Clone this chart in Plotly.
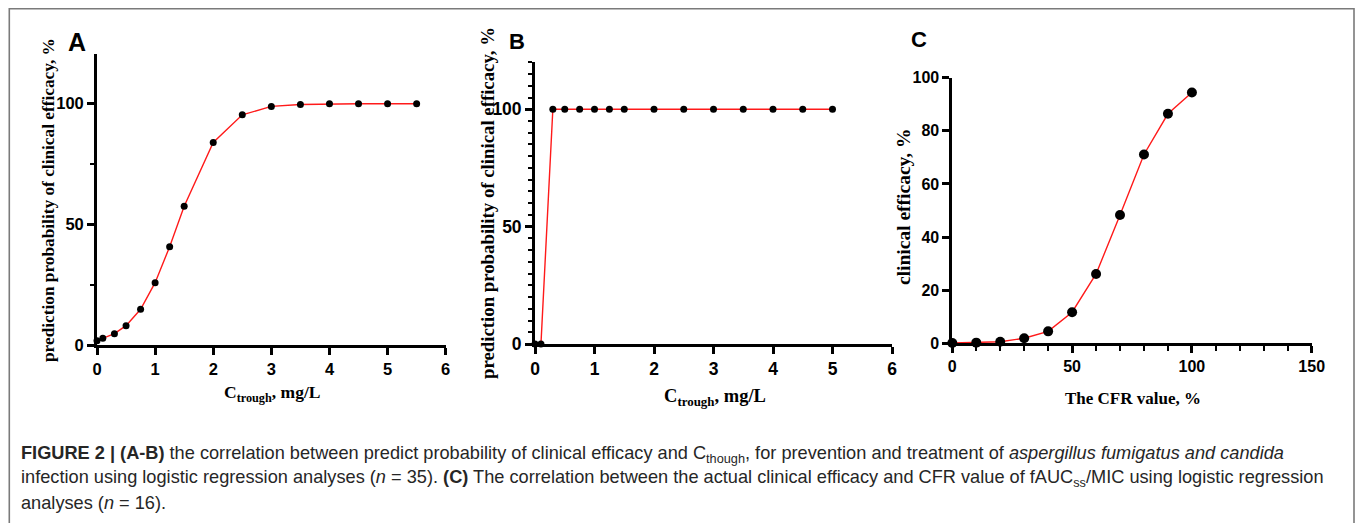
import plotly.graph_objects as go

W, H = 1355, 523

# ---------------- data ----------------
a_x = [0, 0.1, 0.3, 0.5, 0.75, 1.0, 1.25, 1.5, 2.0, 2.5, 3.0, 3.5, 4.0, 4.5, 5.0, 5.5]
a_y = [1.8, 2.8, 4.7, 8.0, 14.8, 25.8, 40.7, 57.5, 83.9, 95.3, 98.8, 99.6, 99.9, 99.9, 99.9, 99.9]

b_x = [0, 0.1, 0.3, 0.5, 0.75, 1.0, 1.25, 1.5, 2.0, 2.5, 3.0, 3.5, 4.0, 4.5, 5.0]
b_y = [0, 0, 100, 100, 100, 100, 100, 100, 100, 100, 100, 100, 100, 100, 100]

c_x = [0, 10, 20, 30, 40, 50, 60, 70, 80, 90, 100]
c_y = [0.1, 0.25, 0.6, 1.9, 4.5, 11.7, 26.1, 48.3, 71.1, 86.4, 94.4]

panel_labels = ["A", "B", "C"]
a_ytitle = "prediction probability of clinical efficacy, %"
b_ytitle = "prediction probability of clinical efficacy, %"
c_ytitle = "clinical efficacy, %"
a_xtitle = "C<sub>trough</sub>, mg/L"
b_xtitle = "C<sub>trough</sub>, mg/L"
c_xtitle = "The CFR value, %"

caption_lines = [
    "<b>FIGURE 2 | (A-B)</b> the correlation between predict probability of clinical efficacy and C<sub>though</sub>, "
    "for prevention and treatment of <i>aspergillus fumigatus and candida</i>",
    "infection using logistic regression analyses (<i>n</i> = 35). <b>(C)</b> The correlation between the actual "
    "clinical efficacy and CFR value of fAUC<sub>ss</sub>/MIC using logistic regression",
    "analyses (<i>n</i> = 16).",
]


# ---------------- helpers ----------------
def px(x):
    return x / W


def py(y):
    return 1 - y / H


RED = "#ff1a1a"
SANS = "Liberation Sans, Arial"
SERIF = "Liberation Serif, Times New Roman"


def tickfont(sz):
    return dict(family=SANS, size=sz, color="black", weight="bold")


fig = go.Figure()

fig.add_trace(go.Scatter(x=a_x, y=a_y, mode="lines+markers", xaxis="x", yaxis="y",
                         line=dict(color=RED, width=1.4),
                         marker=dict(color="black", size=7), cliponaxis=False, showlegend=False))
fig.add_trace(go.Scatter(x=b_x, y=b_y, mode="lines+markers", xaxis="x2", yaxis="y2",
                         line=dict(color=RED, width=1.4),
                         marker=dict(color="black", size=7), cliponaxis=False, showlegend=False))
fig.add_trace(go.Scatter(x=c_x, y=c_y, mode="lines+markers", xaxis="x3", yaxis="y3",
                         line=dict(color=RED, width=1.4),
                         marker=dict(color="black", size=10), cliponaxis=False, showlegend=False))

common = dict(showline=True, linecolor="black", linewidth=2.8, showgrid=False, zeroline=False,
              ticks="outside", tickwidth=2.8, tickcolor="black", ticklen=7, fixedrange=True,
              automargin=False)


def minor(d=None, vals=None, ln=4):
    m = dict(ticks="outside", ticklen=ln, tickwidth=2.2, tickcolor="black", showgrid=False)
    if d is not None:
        m["dtick"] = d
    if vals is not None:
        m["tickvals"] = vals
    return m


layout = dict(
    width=W, height=H, margin=dict(l=0, r=0, t=0, b=0, autoexpand=False),
    paper_bgcolor="white", plot_bgcolor="white",
    xaxis=dict(domain=[px(97), px(445.7)], range=[0, 6], dtick=1, anchor="y",
               tickfont=tickfont(16.5), **common),
    yaxis=dict(domain=[py(345), py(54)], range=[0, 120.5], tickvals=[0, 50, 100], anchor="x",
               minor=minor(vals=[25, 75]), tickfont=tickfont(16.5), **common),
    xaxis2=dict(domain=[px(535), px(892)], range=[0, 6], dtick=1, anchor="y2",
                tickfont=tickfont(17.5), **common),
    yaxis2=dict(domain=[py(344), py(62.3)], range=[0, 120], tickvals=[0, 50, 100], anchor="x2",
                minor=minor(d=5), tickfont=tickfont(17.5), **common),
    xaxis3=dict(domain=[px(952.3), px(1311.7)], range=[0, 150], dtick=50, anchor="y3",
                minor=minor(d=10, ln=5), tickfont=tickfont(16), **common),
    yaxis3=dict(domain=[py(343.3), py(77.7)], range=[0, 100], dtick=20, anchor="x3",
                tickfont=tickfont(16), **common),
)
fig.update_layout(**layout)

ann = []
# panel letters
for lab, (lx, ly, sz) in zip(panel_labels, [(77, 42, 25), (517, 42, 22), (919, 40, 22)]):
    ann.append(dict(text=lab, x=px(lx), y=py(ly), xref="paper", yref="paper", showarrow=False,
                    xanchor="center", yanchor="middle",
                    font=dict(family=SANS, size=sz, color="black", weight="bold")))
# y titles
for t, (tx, ty, sz) in zip([a_ytitle, b_ytitle, c_ytitle], [(49, 200, 17.3), (487, 203, 18.8), (903, 207, 19.5)]):
    ann.append(dict(text=t, x=px(tx), y=py(ty), xref="paper", yref="paper", showarrow=False,
                    textangle=-90, xanchor="center", yanchor="middle",
                    font=dict(family=SERIF, size=sz, color="black", weight="bold")))
# x titles
for t, (tx, ty, sz) in zip([a_xtitle, b_xtitle, c_xtitle], [(272, 393, 17.5), (715, 397, 18.5), (1133, 398, 17)]):
    ann.append(dict(text=t, x=px(tx), y=py(ty), xref="paper", yref="paper", showarrow=False,
                    xanchor="center", yanchor="middle",
                    font=dict(family=SERIF, size=sz, color="black", weight="bold")))
# caption
for i, line in enumerate(caption_lines):
    ann.append(dict(text=line, x=px(19), y=py(454 + 24.5 * i), xref="paper", yref="paper", showarrow=False,
                    xanchor="left", yanchor="middle", align="left",
                    font=dict(family=SANS, size=18.2, color="#262626")))
fig.update_layout(annotations=ann)

# frame around figure
fig.add_shape(type="rect", xref="paper", yref="paper", x0=px(9.3), x1=px(1354), y0=-0.2, y1=py(8.7),
              line=dict(color="#7a7a7a", width=1.6), fillcolor="rgba(0,0,0,0)", layer="below")

fig.write_html("out.html", config=dict(displayModeBar=False),
               post_script="document.documentElement.style.margin='0px';"
                           "document.body.style.margin='0px';document.body.style.overflow='hidden';"
                           "document.documentElement.style.overflow='hidden';")
